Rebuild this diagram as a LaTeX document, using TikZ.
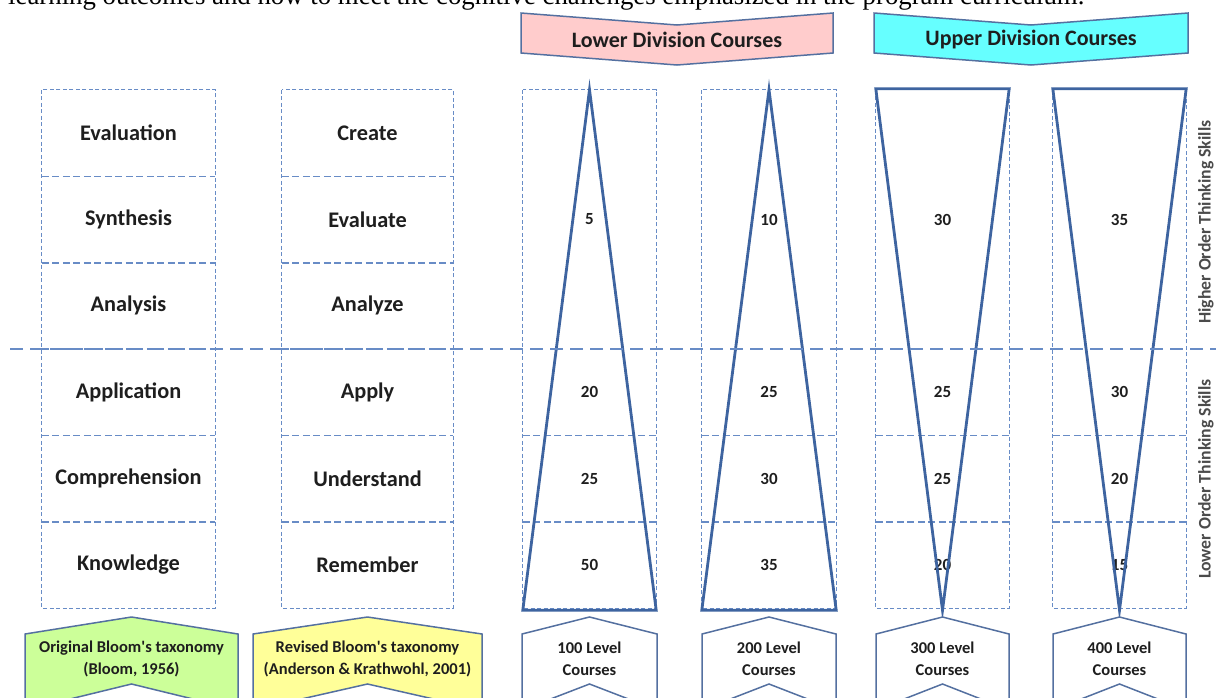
\documentclass[tikz,border=0pt]{standalone}
\usepackage{fontspec}
\setmainfont{Liberation Serif}
\newfontfamily\calfont{Carlito}
\definecolor{dashblue}{RGB}{104,140,198}
\definecolor{triblue}{RGB}{62,100,160}
\definecolor{chevline}{RGB}{84,112,160}
\definecolor{pinkfill}{RGB}{255,204,204}
\definecolor{cyanfill}{RGB}{102,255,255}
\definecolor{greenfill}{RGB}{204,255,153}
\definecolor{yellowfill}{RGB}{255,255,153}
\definecolor{txtdark}{RGB}{30,30,30}
\begin{document}
\begin{tikzpicture}[x=1pt,y=-1pt,
  cellbox/.style={inner sep=0pt, minimum height=86.33pt, text=txtdark,
    font=\calfont\bfseries\fontsize{22.3}{26}\selectfont},
  numbox/.style={inner sep=0pt, text=txtdark,
    font=\calfont\bfseries\fontsize{17}{20}\selectfont},
  outerdash/.style={draw=dashblue, line width=1.3pt, dash pattern=on 4pt off 2.5pt},
  innerdash/.style={draw=dashblue, line width=1.4pt, dash pattern=on 7pt off 3.5pt},
  bigdash/.style={draw=dashblue, line width=2.8pt, dash pattern=on 13pt off 7pt},
  tri/.style={draw=triblue, line width=2.8pt, line join=miter},
  chev/.style={draw=chevline, line width=1.5pt, line join=miter},
  headtxt/.style={inner sep=0pt, text=txtdark, font=\calfont\bfseries\fontsize{22}{26}\selectfont},
  foottxt/.style={inner sep=0pt, align=center, text=txtdark, font=\calfont\bfseries\fontsize{16.5}{22}\selectfont},
  sidetxt/.style={inner sep=0pt, rotate=90, text=txtdark!80, font=\calfont\bfseries\fontsize{17.7}{20}\selectfont}
]
\useasboundingbox (0,0) rectangle (1216,697);
\clip (0,0) rectangle (1216,697);

% caption line cut at the top
\node[anchor=base west, inner sep=0pt, font=\fontsize{26.8}{30}\selectfont] (cap) at (8,4)
  {learning outcomes and how to meet the cognitive challenges emphasized in the program curriculum.};

% ---------- column 1: original Bloom
\node[cellbox, minimum width=173pt] (a1) at (128.5,133.2) {Evaluation};
\node[cellbox, minimum width=173pt] (a2) at (128.5,219.5) {Synthesis};
\node[cellbox, minimum width=173pt] (a3) at (128.5,305.8) {Analysis};
\node[cellbox, minimum width=173pt] (a4) at (128.5,392.2) {Application};
\node[cellbox, minimum width=173pt] (a5) at (128.5,478.5) {Comprehension};
\node[cellbox, minimum width=173pt] (a6) at (128.5,564.8) {Knowledge};
% ---------- column 2: revised Bloom
\node[cellbox, minimum width=171pt] (b1) at (367.5,133.2) {Create};
\node[cellbox, minimum width=171pt] (b2) at (367.5,219.5) {Evaluate};
\node[cellbox, minimum width=171pt] (b3) at (367.5,305.8) {Analyze};
\node[cellbox, minimum width=171pt] (b4) at (367.5,392.2) {Apply};
\node[cellbox, minimum width=171pt] (b5) at (367.5,478.5) {Understand};
\node[cellbox, minimum width=171pt] (b6) at (367.5,564.8) {Remember};

\foreach \c in {a,b}{
  \draw[outerdash] (\c1.north west) rectangle (\c6.south east);
  \foreach \r in {1,2,3,4,5}{
    \draw[innerdash] (\c\r.south west) -- (\c\r.south east);
  }
}

% ---------- course columns
\node[numbox, minimum width=133pt, minimum height=259pt] (p1u) at (589.5,219.5) {5};
\node[numbox, minimum width=133pt, minimum height=86.33pt] (p1a) at (589.5,392.2) {20};
\node[numbox, minimum width=133pt, minimum height=86.33pt] (p1b) at (589.5,478.5) {25};
\node[numbox, minimum width=133pt, minimum height=86.33pt] (p1c) at (589.5,564.8) {50};

\node[numbox, minimum width=134pt, minimum height=259pt] (p2u) at (769,219.5) {10};
\node[numbox, minimum width=134pt, minimum height=86.33pt] (p2a) at (769,392.2) {25};
\node[numbox, minimum width=134pt, minimum height=86.33pt] (p2b) at (769,478.5) {30};
\node[numbox, minimum width=134pt, minimum height=86.33pt] (p2c) at (769,564.8) {35};

\node[numbox, minimum width=133pt, minimum height=259pt] (p3u) at (942.5,219.5) {30};
\node[numbox, minimum width=133pt, minimum height=86.33pt] (p3a) at (942.5,392.2) {25};
\node[numbox, minimum width=133pt, minimum height=86.33pt] (p3b) at (942.5,478.5) {25};
\node[numbox, minimum width=133pt, minimum height=86.33pt] (p3c) at (942.5,564.8) {20};

\node[numbox, minimum width=133pt, minimum height=259pt] (p4u) at (1119.5,219.5) {35};
\node[numbox, minimum width=133pt, minimum height=86.33pt] (p4a) at (1119.5,392.2) {30};
\node[numbox, minimum width=133pt, minimum height=86.33pt] (p4b) at (1119.5,478.5) {20};
\node[numbox, minimum width=133pt, minimum height=86.33pt] (p4c) at (1119.5,564.8) {15};

\foreach \c in {p1,p2,p3,p4}{
  \draw[outerdash] (\c u.north west) rectangle (\c c.south east);
  \draw[innerdash] (\c a.south west) -- (\c a.south east);
  \draw[innerdash] (\c b.south west) -- (\c b.south east);
}

% triangles
\draw[tri] (p1u.north) -- ([yshift=-2pt]p1c.south west) -- ([yshift=-2pt]p1c.south east) -- cycle;
\draw[tri] (p2u.north) -- ([yshift=-2pt]p2c.south west) -- ([yshift=-2pt]p2c.south east) -- cycle;
\draw[tri] ([yshift=1pt]p3u.north west) -- ([yshift=1pt]p3u.north east) -- ([yshift=-2pt]p3c.south) -- cycle;
\draw[tri] ([yshift=1pt]p4u.north west) -- ([yshift=1pt]p4u.north east) -- ([yshift=-2pt]p4c.south) -- cycle;

% big dividing line
\coordinate (dl) at (10,349);
\coordinate (dr) at (1216,349);
\draw[bigdash] (dl) -- (dr);

% side labels
\node[sidetxt] (hot) at (1206,222) {Higher Order Thinking Skills};
\node[sidetxt] (lot) at (1206,479) {Lower Order Thinking Skills};

% ---------- top headers (down chevrons)
\draw[chev, fill=pinkfill] (521,13) -- (677,25) -- (833,13) -- (833,53) -- (677,65) -- (521,53) -- cycle;
\node[headtxt] (lower) at (677,40) {Lower Division Courses};
\draw[chev, fill=cyanfill] (874,13) -- (1031,25) -- (1188,13) -- (1188,53) -- (1031,65) -- (874,53) -- cycle;
\node[headtxt] (upper) at (1031,40) {Upper Division Courses};

% ---------- bottom labels (up chevrons)
\draw[chev, fill=greenfill] (25,634) -- (131.5,617) -- (238,634) -- (238,710) -- (131.5,684) -- (25,710) -- cycle;
\node[foottxt] (orig) at (131.5,659) {Original Bloom's taxonomy\\(Bloom, 1956)};
\draw[chev, fill=yellowfill] (253,634) -- (367.5,617) -- (482,634) -- (482,710) -- (367.5,684) -- (253,710) -- cycle;
\node[foottxt] (rev) at (367.5,659) {Revised Bloom's taxonomy\\(Anderson \& Krathwohl, 2001)};

\draw[chev, fill=white] (522,634) -- (589.5,617) -- (657,634) -- (657,710) -- (589.5,684) -- (522,710) -- cycle;
\node[foottxt] (l100) at (589.5,659) {100 Level\\Courses};
\draw[chev, fill=white] (702,634) -- (769,617) -- (836,634) -- (836,710) -- (769,684) -- (702,710) -- cycle;
\node[foottxt] (l200) at (769,659) {200 Level\\Courses};
\draw[chev, fill=white] (876,634) -- (942.5,617) -- (1009,634) -- (1009,710) -- (942.5,684) -- (876,710) -- cycle;
\node[foottxt] (l300) at (942.5,659) {300 Level\\Courses};
\draw[chev, fill=white] (1053,634) -- (1119.5,617) -- (1186,634) -- (1186,710) -- (1119.5,684) -- (1053,710) -- cycle;
\node[foottxt] (l400) at (1119.5,659) {400 Level\\Courses};
\end{tikzpicture}
\end{document}
